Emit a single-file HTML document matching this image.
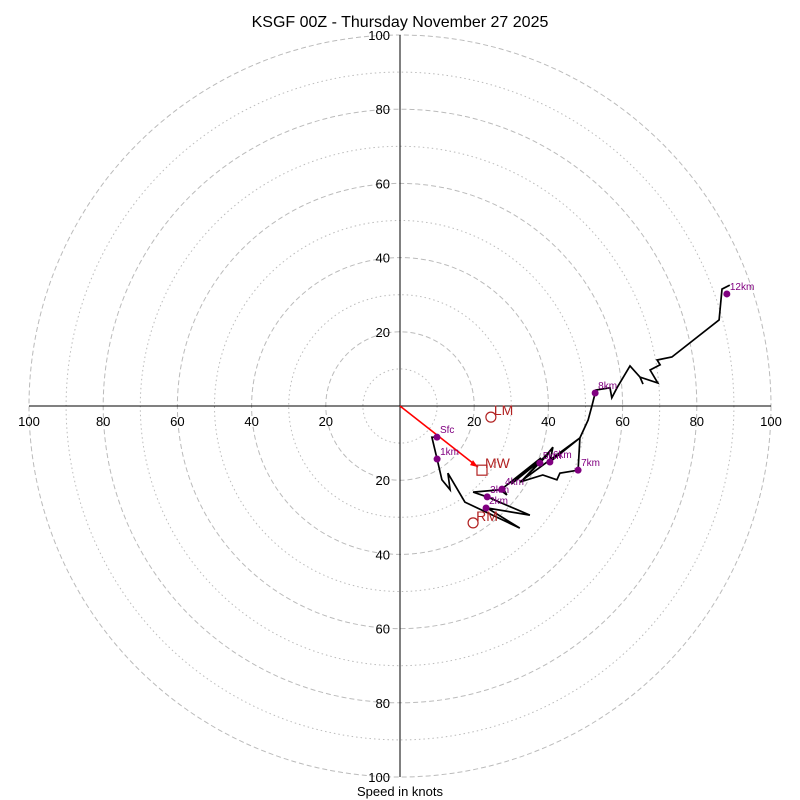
<!DOCTYPE html>
<html><head><meta charset="utf-8"><style>
html,body{margin:0;padding:0;background:#fff;}
svg{display:block;font-family:"Liberation Sans","DejaVu Sans",sans-serif;}
</style></head><body>
<svg id="chart" width="800" height="800" viewBox="0 0 800 800">
<text x="400" y="27" text-anchor="middle" font-size="16" fill="#000">KSGF 00Z - Thursday November 27 2025</text>
<text x="400" y="796" text-anchor="middle" font-size="13" fill="#000">Speed in knots</text>
<g id="rings"></g><g id="axes"></g><g id="ticks"></g><g id="trace"></g><g id="marks"></g>
</svg>
<script>
const ringValues=[10,20,30,40,50,60,70,80,90,100];
const tickLabels=[20,40,60,80,100];
const traceU=[9.97,8.6,10.0,11.3,13.5,12.9,17.5,32.3,23.5,35.0,23.5,19.7,27.0,28.8,27.8,38.0,30.0,40.0,33.0,41.0,37.7,41.2,40.4,48.5,48.0,43.1,42.3,38.5,32.3,48.5,50.7,51.8,52.8,56.6,57.1,58.5,62.0,64.7,65.5,64.7,69.5,67.4,70.1,69.3,73.3,86.0,86.8,88.9];
const traceV=[-8.4,-8.4,-14.3,-19.9,-22.6,-18.1,-25.9,-32.9,-27.5,-29.4,-24.5,-23.2,-22.6,-24.0,-22.1,-14.0,-21.0,-13.0,-20.0,-11.5,-15.4,-11.1,-15.1,-8.6,-17.3,-18.1,-19.9,-18.6,-20.5,-8.6,-3.8,0.3,4.3,4.9,2.2,4.9,10.8,7.8,5.9,7.8,6.2,9.7,11.1,12.4,13.2,23.2,31.5,32.6];
const heightLabels=["Sfc","1km","2km","3km","4km","5km","6km","7km","8km","12km"];
const heightU=[9.97,10.0,23.2,23.5,27.5,37.7,40.4,48.0,52.6,88.1];
const heightV=[-8.4,-14.3,-27.5,-24.5,-22.4,-15.4,-15.1,-17.3,3.5,30.2];
const motionLabels=["LM","MW","RM"];
const motionU=[24.5,22.1,19.7];
const motionV=[-3.0,-17.3,-31.5];

const NS="http://www.w3.org/2000/svg";
const cx=400,cy=406,R=371,maxV=100;
const sx=u=>cx+u*R/maxV, sy=v=>cy-v*R/maxV, sr=s=>s*R/maxV;
function mk(tag,attrs,parent){const e=document.createElementNS(NS,tag);for(const k in attrs)e.setAttribute(k,attrs[k]);parent.appendChild(e);return e;}
const rings=document.getElementById('rings');
ringValues.forEach(v=>{
  const c=mk('circle',{cx:cx,cy:cy,r:sr(v),fill:'none',stroke:'#bbb','stroke-width':1,'stroke-dasharray':v%20===0?'5,3':'1.5,3'},rings);
  
  
});
const axes=document.getElementById('axes');
const hx=mk('line',{x1:sx(-100),y1:cy,x2:sx(100),y2:cy,stroke:'#000','stroke-width':1},axes);


const vy=mk('line',{x1:cx,y1:sy(100),x2:cx,y2:sy(-100),stroke:'#000','stroke-width':1},axes);


const ticks=document.getElementById('ticks');
tickLabels.forEach(t=>{
  [-1,1].forEach(s=>{
    const a=mk('text',{x:sx(s*t),y:cy+20,'text-anchor':'middle','font-size':13},ticks);a.textContent=t;
    
    
    const b=mk('text',{x:cx-10,y:sy(s*t)+5,'text-anchor':'end','font-size':13},ticks);b.textContent=t;
    
    
  });
});
const trace=document.getElementById('trace');
const pts=traceU.map((u,i)=>sx(u).toFixed(1)+','+sy(traceV[i]).toFixed(1)).join(' ');
const pl=mk('polyline',{points:pts,fill:'none',stroke:'#000','stroke-width':1.7,'stroke-linejoin':'miter'},trace);


const marks=document.getElementById('marks');
const ar=mk('line',{x1:cx,y1:cy,x2:sx(motionU[1])-4,y2:sy(motionV[1])-3,stroke:'#f00','stroke-width':1.6},marks);


const ahx=sx(motionU[1])-4,ahy=sy(motionV[1])-3;
const ah=mk('polygon',{points:`${ahx},${ahy} ${ahx-8},${ahy-2} ${ahx-5},${ahy-7}`,fill:'#f00'},marks);


heightLabels.forEach((l,i)=>{
  const d=mk('circle',{cx:sx(heightU[i]),cy:sy(heightV[i]),r:3.5,fill:'#800080'},marks);
  
  
  const t=mk('text',{x:sx(heightU[i])+3,y:sy(heightV[i])-4,'font-size':10,fill:'#800080'},marks);t.textContent=l;
  
  
});
motionLabels.forEach((l,i)=>{
  const x=sx(motionU[i]),y=sy(motionV[i]);
  let m;
  if(l==='MW') m=mk('rect',{x:x-5,y:y-5,width:10,height:10,fill:'none',stroke:'#b22222','stroke-width':1.2},marks);
  else m=mk('circle',{cx:x,cy:y,r:5,fill:'none',stroke:'#b22222','stroke-width':1.2},marks);
  
  
  const t=mk('text',{x:x+3,y:y-2,'font-size':14,fill:'#b22222'},marks);t.textContent=l;
  
  
});
</script>
</body></html>
